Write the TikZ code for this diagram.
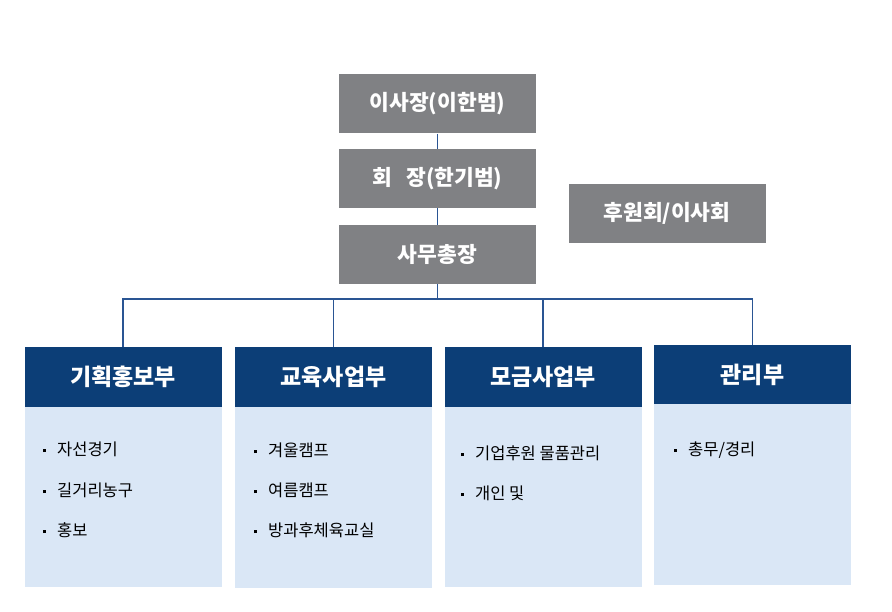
\documentclass[tikz,border=0pt]{standalone}
\usepackage{fontspec}
\setmainfont{Noto Sans CJK KR}
\usepackage{xcolor}
\usetikzlibrary{positioning}

\definecolor{boardgray}{HTML}{808184}
\definecolor{deptblue}{HTML}{0C3E77}
\definecolor{deptbody}{HTML}{DAE7F6}
\definecolor{linkblue}{HTML}{2A5593}

\newcommand{\sqbullet}{\rule[0.35ex]{3pt}{3pt}\hspace{11pt}}

\begin{document}
\begin{tikzpicture}[
    x=1pt, y=-1pt,
    board/.style={fill=boardgray, text=white, minimum width=197pt, minimum height=59pt, inner sep=0pt, font=\fontsize{21.5}{25}\selectfont\bfseries},
    depthead/.style={fill=deptblue, text=white, minimum width=197pt, minimum height=60pt, inner sep=0pt, font=\fontsize{23}{27}\selectfont\bfseries},
    deptbox/.style={fill=deptbody, minimum width=197pt, minimum height=180pt, inner sep=0pt},
    item/.style={anchor=west, inner sep=0pt, font=\fontsize{16.5}{20}\selectfont},
    link/.style={draw=linkblue, line width=1.6pt}
]
\useasboundingbox (0,0) rectangle (892,612);

% top boxes
\node[board] (chair) at (437.5, 104) {이사장(이한범)};
\node[board] (pres) at (437.5, 178.5) {회\hspace{14pt}장(한기범)};
\node[board] (sec) at (437.5, 254.5) {사무총장};
\node[board] (sponsor) at (667, 213.5) {후원회/이사회};

% departments
\node[depthead] (plan) at (123, 377) {기획홍보부};
\node[depthead] (edu) at (333.5, 377) {교육사업부};
\node[depthead] (fund) at (543, 377) {모금사업부};
\node[depthead, minimum height=59pt] (admin) at (752.5, 374.5) {관리부};
\node[deptbox, below=0pt of plan] (planbody) {};
\node[deptbox, minimum height=181pt, below=0pt of edu] (edubody) {};
\node[deptbox, below=0pt of fund] (fundbody) {};
\node[deptbox, minimum height=181pt, below=0pt of admin] (adminbody) {};

% items
\node[item] (plan1) at (43, 449) {\sqbullet 자선경기};
\node[item] (plan2) at (43, 490) {\sqbullet 길거리농구};
\node[item] (plan3) at (43, 530) {\sqbullet 홍보};
\node[item] (edu1) at (254, 450) {\sqbullet 겨울캠프};
\node[item] (edu2) at (254, 490) {\sqbullet 여름캠프};
\node[item] (edu3) at (254, 530) {\sqbullet 방과후체육교실};
\node[item] (fund1) at (461, 453) {\sqbullet 기업후원 물품관리};
\node[item] (fund2) at (461, 493) {\sqbullet 개인 및};
\node[item] (admin1) at (674, 450) {\sqbullet 총무/경리};

% connectors
\coordinate (bus) at (437.5, 299);
\draw[link] (chair) -- (pres);
\draw[link] (pres) -- (sec);
\draw[link] (sec) -- (bus);
\draw[link] (plan.north) |- (bus);
\draw[link] (edu.north) |- (bus);
\draw[link] (fund.north) |- (bus);
\draw[link] (admin.north) |- (bus);
\end{tikzpicture}
\end{document}
